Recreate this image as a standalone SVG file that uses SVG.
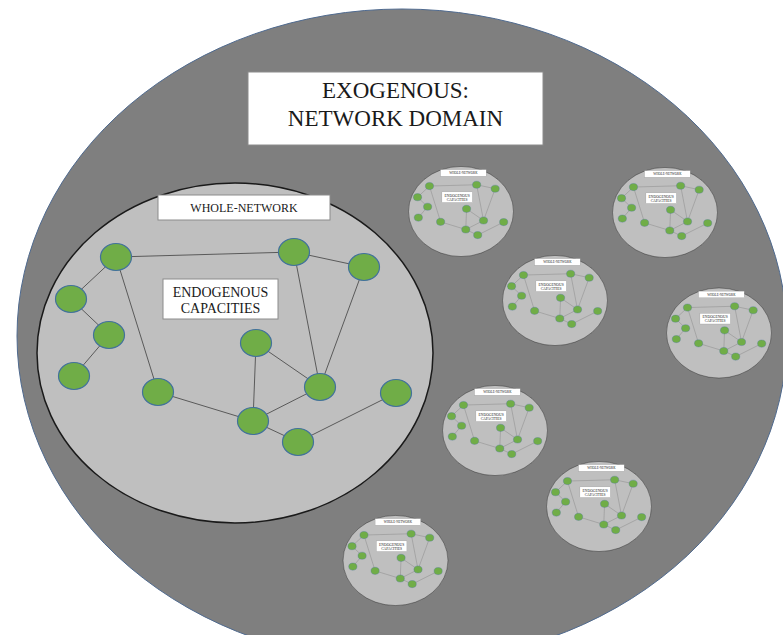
<svg xmlns="http://www.w3.org/2000/svg" xmlns:xlink="http://www.w3.org/1999/xlink" width="783" height="635" viewBox="0 0 783 635">
  <style>
    .domain { fill: #7f7f7f; stroke: #4f6a8f; stroke-width: 1; }
    .whole { fill: #bfbfbf; stroke: #1a1a1a; stroke-width: 1.5; }
    .label-box { fill: #ffffff; stroke: #8c8c8c; stroke-width: 1; }
    .label { font-family: "Liberation Serif", "Times New Roman", serif; fill: #1a1a1a; text-anchor: middle; }
    .actor { fill: #70ad47; stroke: #41719c; stroke-width: 1.2; }
    .tie { stroke: #5a5a5a; stroke-width: 1; fill: none; }
  </style>

  <rect width="783" height="635" fill="#ffffff"/>

  <!-- exogenous network domain -->
  <g id="domain">
    <ellipse class="domain" cx="402" cy="336" rx="385" ry="327"/>
  </g>

  <g id="domain-title">
    <rect class="label-box" x="248" y="72" width="295" height="73"/>
    <text class="label" x="395.5" y="98" font-size="23" font-family="Liberation Serif, Times New Roman, serif">EXOGENOUS:</text>
    <text class="label" x="395.5" y="126" font-size="23" font-family="Liberation Serif, Times New Roman, serif">NETWORK DOMAIN</text>
  </g>

  <!-- one whole network with its endogenous capacities -->
  <g id="whole-network">
    <ellipse class="whole" cx="235" cy="353" rx="198" ry="170"/>
    <g id="whole-network-label">
      <rect class="label-box" x="158" y="195" width="172" height="25"/>
      <text class="label" x="244" y="212" font-size="12">WHOLE-NETWORK</text>
    </g>
    <g id="capacities-label">
      <rect class="label-box" x="163" y="279" width="115" height="40"/>
      <text class="label" x="220.5" y="297" font-size="14">ENDOGENOUS</text>
      <text class="label" x="220.5" y="313" font-size="14">CAPACITIES</text>
    </g>
    <g id="ties">
      <line class="tie" x1="116" y1="257" x2="294" y2="252"/>
      <line class="tie" x1="116" y1="257" x2="71" y2="299"/>
      <line class="tie" x1="71" y1="299" x2="109" y2="335"/>
      <line class="tie" x1="109" y1="335" x2="74" y2="376"/>
      <line class="tie" x1="116" y1="257" x2="158" y2="392"/>
      <line class="tie" x1="294" y1="252" x2="364" y2="267"/>
      <line class="tie" x1="294" y1="252" x2="320" y2="387"/>
      <line class="tie" x1="364" y1="267" x2="320" y2="387"/>
      <line class="tie" x1="256" y1="343" x2="320" y2="387"/>
      <line class="tie" x1="256" y1="343" x2="253" y2="421"/>
      <line class="tie" x1="158" y1="392" x2="253" y2="421"/>
      <line class="tie" x1="253" y1="421" x2="320" y2="387"/>
      <line class="tie" x1="253" y1="421" x2="298" y2="442"/>
      <line class="tie" x1="298" y1="442" x2="396" y2="393"/>
    </g>
    <g id="actor-1"><ellipse class="actor" cx="116" cy="257" rx="15.5" ry="13.5"/></g>
    <g id="actor-2"><ellipse class="actor" cx="71" cy="299" rx="15.5" ry="13.5"/></g>
    <g id="actor-3"><ellipse class="actor" cx="109" cy="335" rx="15.5" ry="13.5"/></g>
    <g id="actor-4"><ellipse class="actor" cx="74" cy="376" rx="15.5" ry="13.5"/></g>
    <g id="actor-5"><ellipse class="actor" cx="158" cy="392" rx="15.5" ry="13.5"/></g>
    <g id="actor-6"><ellipse class="actor" cx="294" cy="252" rx="15.5" ry="13.5"/></g>
    <g id="actor-7"><ellipse class="actor" cx="364" cy="267" rx="15.5" ry="13.5"/></g>
    <g id="actor-8"><ellipse class="actor" cx="256" cy="343" rx="15.5" ry="13.5"/></g>
    <g id="actor-9"><ellipse class="actor" cx="320" cy="387" rx="15.5" ry="13.5"/></g>
    <g id="actor-10"><ellipse class="actor" cx="253" cy="421" rx="15.5" ry="13.5"/></g>
    <g id="actor-11"><ellipse class="actor" cx="298" cy="442" rx="15.5" ry="13.5"/></g>
    <g id="actor-12"><ellipse class="actor" cx="396" cy="393" rx="15.5" ry="13.5"/></g>
  </g>

  <!-- other whole networks in the domain, same structure at reduced size -->
  <g id="network-a"><use xlink:href="#whole-network" href="#whole-network" transform="translate(461 211.5) scale(0.265) translate(-235 -353)"/></g>
  <g id="network-b"><use xlink:href="#whole-network" href="#whole-network" transform="translate(665 212.5) scale(0.265) translate(-235 -353)"/></g>
  <g id="network-c"><use xlink:href="#whole-network" href="#whole-network" transform="translate(555 300.5) scale(0.265) translate(-235 -353)"/></g>
  <g id="network-d"><use xlink:href="#whole-network" href="#whole-network" transform="translate(719 333) scale(0.265) translate(-235 -353)"/></g>
  <g id="network-e"><use xlink:href="#whole-network" href="#whole-network" transform="translate(495 430.5) scale(0.265) translate(-235 -353)"/></g>
  <g id="network-f"><use xlink:href="#whole-network" href="#whole-network" transform="translate(599 506.5) scale(0.265) translate(-235 -353)"/></g>
  <g id="network-g"><use xlink:href="#whole-network" href="#whole-network" transform="translate(395.5 560.5) scale(0.265) translate(-235 -353)"/></g>
</svg>
